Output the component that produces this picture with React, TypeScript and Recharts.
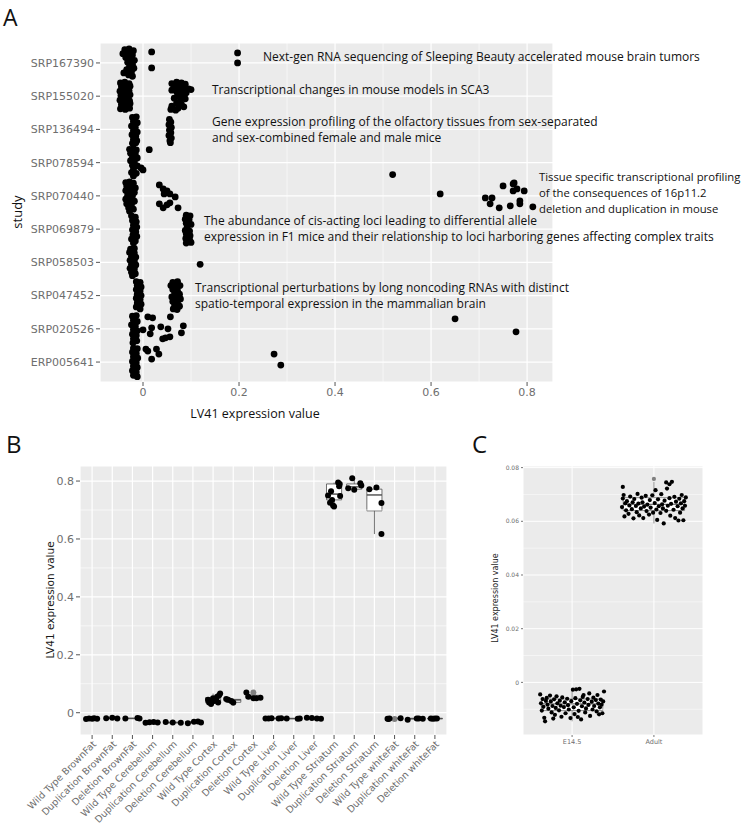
import React from "react";
import {
  CartesianGrid,
  ReferenceArea,
  ReferenceLine,
  Scatter,
  ScatterChart,
  XAxis,
  YAxis,
} from "recharts";

// ---------- panel A: LV41 by study (value, vertical jitter) ----------
const studies = [
  "SRP167390", "SRP155020", "SRP136494", "SRP078594", "SRP070440",
  "SRP069879", "SRP058503", "SRP047452", "SRP020526", "ERP005641",
];

const srp167390 = [
  [-0.038, 0.4], [-0.029, 0.42], [-0.02, 0.37], [-0.042, 0.28], [-0.031, 0.3], [-0.022, 0.24],
  [-0.036, 0.16], [-0.026, 0.12], [-0.018, 0.08], [-0.032, 0.02], [-0.022, -0.04], [-0.028, -0.1],
  [-0.019, -0.16], [-0.034, -0.2], [-0.024, -0.26], [-0.04, -0.3], [-0.03, -0.36], [-0.022, -0.4],
  [0.018, 0.33], [0.018, -0.15], [0.197, 0.3], [0.197, 0.0],
];
const srp155020 = [
  [-0.047, 0.4], [-0.038, 0.42], [-0.029, 0.38], [-0.045, 0.28], [-0.035, 0.26], [-0.027, 0.3],
  [-0.048, 0.15], [-0.039, 0.12], [-0.029, 0.16], [-0.046, 0.02], [-0.036, 0.0], [-0.027, 0.04],
  [-0.048, -0.12], [-0.038, -0.1], [-0.028, -0.14], [-0.045, -0.25], [-0.035, -0.27], [-0.027, -0.22],
  [-0.047, -0.38], [-0.037, -0.4], [-0.028, -0.36],
  [0.06, 0.38], [0.07, 0.42], [0.08, 0.4], [0.088, 0.36], [0.065, 0.3], [0.075, 0.28], [0.085, 0.26],
  [0.095, 0.22], [0.1, 0.2], [0.06, 0.18], [0.07, 0.14], [0.08, 0.12], [0.09, 0.1], [0.072, 0.02],
  [0.082, -0.02], [0.065, -0.06], [0.078, -0.1], [0.088, -0.08], [0.07, -0.2], [0.08, -0.24],
  [0.06, -0.3], [0.073, -0.36], [0.085, -0.32], [0.058, -0.4], [0.068, -0.42],
];
const srp136494 = [
  [-0.022, 0.36], [-0.014, 0.38], [-0.02, 0.24], [-0.012, 0.2], [-0.024, 0.1], [-0.016, 0.06],
  [-0.02, -0.04], [-0.012, -0.08], [-0.023, -0.16], [-0.015, -0.2], [-0.02, -0.3], [-0.013, -0.34],
  [-0.022, -0.42], [-0.015, -0.4],
  [0.055, 0.3], [0.058, 0.22], [0.054, 0.14], [0.059, 0.06], [0.055, -0.02], [0.058, -0.1],
  [0.054, -0.18], [0.059, -0.26], [0.056, -0.34], [0.057, -0.4],
];
const srp078594 = [
  [-0.028, 0.4], [-0.02, 0.42], [-0.014, 0.38], [-0.026, 0.28], [-0.016, 0.26], [-0.022, 0.16],
  [-0.012, 0.14], [-0.026, 0.06], [-0.018, 0.02], [-0.022, -0.08], [-0.012, -0.1], [-0.004, -0.16],
  [0.0, -0.22], [-0.02, -0.2], [-0.024, -0.3], [-0.014, -0.32], [-0.02, -0.4],
  [0.013, 0.39], [0.52, -0.36],
];
const srp070440 = [
  [-0.036, 0.4], [-0.028, 0.42], [-0.02, 0.38], [-0.034, 0.3], [-0.024, 0.28], [-0.016, 0.24],
  [-0.036, 0.16], [-0.026, 0.14], [-0.018, 0.1], [-0.032, 0.02], [-0.022, 0.0], [-0.036, -0.1],
  [-0.026, -0.12], [-0.018, -0.16], [-0.034, -0.24], [-0.024, -0.26], [-0.03, -0.36], [-0.02, -0.4],
  [-0.028, -0.46],
  [0.034, 0.33], [0.042, 0.21], [0.05, 0.15], [0.044, 0.06], [0.056, 0.06], [0.067, -0.03],
  [0.034, -0.24], [0.042, -0.36], [0.05, -0.27], [0.056, -0.21], [0.073, -0.36],
  [0.619, 0.06], [0.713, -0.06], [0.727, -0.06], [0.723, -0.24], [0.742, -0.36], [0.75, 0.3],
  [0.765, -0.3], [0.771, 0.36], [0.773, 0.39], [0.771, 0.15], [0.779, 0.21], [0.785, -0.15],
  [0.785, -0.24], [0.794, 0.15], [0.812, -0.33],
];
const srp069879 = [
  [-0.024, 0.4], [-0.016, 0.36], [-0.022, 0.26], [-0.014, 0.22], [-0.02, 0.12], [-0.013, 0.06],
  [-0.022, -0.02], [-0.015, -0.08], [-0.021, -0.18], [-0.013, -0.22], [-0.024, -0.3], [-0.016, -0.36],
  [-0.02, -0.42],
  [0.09, 0.42], [0.098, 0.4], [0.088, 0.3], [0.096, 0.28], [0.09, 0.18], [0.1, 0.14], [0.092, 0.06],
  [0.088, -0.04], [0.097, -0.06], [0.09, -0.14], [0.098, -0.2], [0.089, -0.28], [0.097, -0.32],
  [0.09, -0.42], [0.1, -0.4],
];
const srp058503 = [
  [-0.026, 0.4], [-0.018, 0.42], [-0.028, 0.3], [-0.018, 0.28], [-0.024, 0.18], [-0.015, 0.16],
  [-0.027, 0.06], [-0.018, 0.04], [-0.024, -0.06], [-0.015, -0.08], [-0.027, -0.18], [-0.018, -0.2],
  [-0.024, -0.3], [-0.016, -0.34], [-0.022, -0.4],
  [0.119, -0.06],
];
const srp047452 = [
  [-0.014, 0.42], [-0.006, 0.4], [-0.012, 0.3], [-0.004, 0.26], [-0.014, 0.18], [-0.006, 0.14],
  [-0.012, 0.04], [-0.004, 0.0], [-0.014, -0.08], [-0.006, -0.12], [-0.012, -0.22], [-0.004, -0.26],
  [-0.014, -0.34], [-0.006, -0.4],
  [0.062, 0.4], [0.072, 0.42], [0.058, 0.3], [0.068, 0.28], [0.077, 0.3], [0.062, 0.18], [0.072, 0.14],
  [0.066, 0.06], [0.076, 0.04], [0.06, -0.04], [0.07, -0.08], [0.078, -0.1], [0.062, -0.18],
  [0.072, -0.22], [0.066, -0.3], [0.076, -0.32], [0.063, -0.4], [0.071, -0.42],
];
const srp020526 = [
  [-0.022, 0.38], [-0.014, 0.4], [-0.02, 0.26], [-0.012, 0.22], [-0.024, 0.12], [-0.016, 0.08],
  [-0.02, -0.02], [-0.012, -0.06], [-0.022, -0.16], [-0.014, -0.2], [-0.02, -0.3], [-0.013, -0.36],
  [-0.021, -0.42],
  [0.0, -0.03], [0.01, 0.36], [0.02, 0.33], [0.018, 0.03], [0.015, -0.15], [0.037, 0.06],
  [0.041, -0.3], [0.047, -0.27], [0.052, 0.0], [0.056, -0.24], [0.057, 0.36], [0.08, -0.12],
  [0.084, 0.09], [0.65, 0.3], [0.777, -0.09],
];
const erp005641 = [
  [-0.02, 0.42], [-0.012, 0.4], [-0.022, 0.3], [-0.014, 0.26], [-0.02, 0.16], [-0.011, 0.12],
  [-0.022, 0.02], [-0.014, -0.02], [-0.02, -0.12], [-0.012, -0.16], [-0.022, -0.26], [-0.014, -0.3],
  [-0.02, -0.4], [-0.012, -0.44],
  [0.006, 0.39], [0.01, 0.33], [0.018, 0.09], [0.028, 0.39], [0.033, 0.24], [0.273, 0.24], [0.287, -0.09],
];
const studyPoints = [
  srp167390, srp155020, srp136494, srp078594, srp070440,
  srp069879, srp058503, srp047452, srp020526, erp005641,
];
const aTicks = [0, 0.2, 0.4, 0.6, 0.8];
const aMinor = [0.1, 0.3, 0.5, 0.7];

// ---------- panel B: tissue / genotype boxplots ----------
const bLabels = [
  "Wild Type BrownFat", "Duplication BrownFat", "Deletion BrownFat",
  "Wild Type Cerebellum", "Duplication Cerebellum", "Deletion Cerebellum",
  "Wild Type Cortex", "Duplication Cortex", "Deletion Cortex",
  "Wild Type Liver", "Duplication Liver", "Deletion Liver",
  "Wild Type Striatum", "Duplication Striatum", "Deletion Striatum",
  "Wild Type whiteFat", "Duplication whiteFat", "Deletion whiteFat",
];
const bQ1 = [-0.022, -0.02, -0.02, -0.035, -0.035, -0.035, 0.034, 0.036, 0.05, -0.02, -0.021, -0.021, 0.735, 0.772, 0.697, -0.021, -0.022, -0.021];
const bMed = [-0.021, -0.019, -0.02, -0.034, -0.034, -0.033, 0.042, 0.044, 0.055, -0.02, -0.02, -0.019, 0.755, 0.78, 0.752, -0.02, -0.02, -0.02];
const bQ3 = [-0.02, -0.018, -0.019, -0.033, -0.033, -0.031, 0.052, 0.046, 0.06, -0.019, -0.02, -0.017, 0.79, 0.79, 0.772, -0.019, -0.02, -0.02];
const bLo = [-0.022, -0.02, -0.02, -0.035, -0.035, -0.036, 0.028, 0.033, 0.049, -0.021, -0.021, -0.021, 0.712, 0.77, 0.617, -0.022, -0.024, -0.021];
const bHi = [-0.019, -0.017, -0.018, -0.032, -0.032, -0.03, 0.066, 0.048, 0.06, -0.019, -0.02, -0.017, 0.795, 0.81, 0.778, -0.019, -0.02, -0.02];
// jittered samples: [x offset within group, value]
const bSamples = [
  [[-0.3, -0.022], [-0.15, -0.02], [0, -0.021], [0.1, -0.019], [0.25, -0.021]],
  [[-0.3, -0.019], [0, -0.017], [0.25, -0.02]],
  [[-0.35, -0.02], [0.25, -0.018], [0.35, -0.02]],
  [[-0.35, -0.035], [-0.15, -0.033], [0.05, -0.032], [0.25, -0.034]],
  [[-0.35, -0.032], [0, -0.034], [0.4, -0.035]],
  [[-0.25, -0.036], [0.05, -0.031], [0.25, -0.03], [0.4, -0.034]],
  [[-0.25, 0.045], [-0.2, 0.035], [-0.1, 0.03], [0, 0.05], [0.05, 0.04], [0.15, 0.045], [0.2, 0.055], [0.3, 0.06], [0.35, 0.066], [0.25, 0.035]],
  [[-0.35, 0.047], [-0.25, 0.045], [-0.1, 0.04], [0, 0.035]],
  [[-0.35, 0.07], [-0.25, 0.055], [0, 0.05], [0.15, 0.05], [0.35, 0.052]],
  [[-0.4, -0.02], [-0.25, -0.02], [-0.1, -0.019], [0.25, -0.02], [0.38, -0.019]],
  [[-0.35, -0.02], [0.2, -0.021], [0.3, -0.02]],
  [[-0.35, -0.017], [-0.1, -0.018], [0.15, -0.02], [0.35, -0.021]],
  [[0.2, 0.795], [0.28, 0.79], [0.25, 0.782], [-0.15, 0.765], [-0.3, 0.75], [0.3, 0.748], [-0.1, 0.735], [-0.2, 0.725], [-0.05, 0.716], [0, 0.712]],
  [[-0.1, 0.81], [0.3, 0.792], [0.35, 0.785], [-0.3, 0.775], [0, 0.77]],
  [[-0.25, 0.772], [0.1, 0.778], [0.35, 0.724], [0.35, 0.617]],
  [[-0.35, -0.021], [-0.25, -0.02], [0.3, -0.019], [-0.3, -0.022]],
  [[-0.35, -0.024], [0.1, -0.02], [0.2, -0.02], [0.4, -0.021]],
  [[-0.2, -0.02], [-0.1, -0.021], [0, -0.02], [0.1, -0.02]],
];
// box-plot outliers drawn in grey under the jitter
const bOutliers = [[9, 0.07], [16, -0.022], [8, 0.034]];
const bTicks = [0, 0.2, 0.4, 0.6, 0.8];
const bMinor = [0.1, 0.3, 0.5, 0.7];

// ---------- panel C: E14.5 vs Adult ----------
const cLabels = ["E14.5", "Adult"];
const cQ1 = [-0.0105, 0.064];
const cMed = [-0.008, 0.0663];
const cQ3 = [-0.0062, 0.0688];
const cLo = [-0.0145, 0.0592];
const cHi = [-0.0026, 0.0747];
const e145 = [
  [-0.39, -0.0045], [-0.36, -0.0062], [-0.38, -0.0078], [-0.35, -0.0091], [-0.37, -0.0105], [-0.34, -0.0132],
  [-0.33, -0.0145], [-0.31, -0.0058], [-0.3, -0.0083], [-0.29, -0.0098], [-0.27, -0.0049], [-0.26, -0.0071],
  [-0.25, -0.0112], [-0.24, -0.0088], [-0.22, -0.0063], [-0.21, -0.0121], [-0.2, -0.0095], [-0.19, -0.0052],
  [-0.18, -0.0078], [-0.16, -0.0104], [-0.15, -0.0068], [-0.14, -0.0087], [-0.13, -0.0128], [-0.12, -0.0056],
  [-0.1, -0.0092], [-0.09, -0.0074], [-0.08, -0.0115], [-0.06, -0.0061], [-0.05, -0.0085], [-0.04, -0.0101],
  [-0.02, -0.0133], [-0.01, -0.007], [0.01, -0.0027], [0.02, -0.0093], [0.03, -0.0118], [0.04, -0.0059],
  [0.05, -0.0026], [0.06, -0.008], [0.08, -0.0106], [0.09, -0.0024], [0.1, -0.0067], [0.11, -0.0138],
  [0.12, -0.0089], [0.13, -0.0054], [0.15, -0.0075], [0.16, -0.0112], [0.17, -0.0097], [0.19, -0.0062],
  [0.2, -0.0084], [0.21, -0.0041], [0.22, -0.0125], [0.24, -0.0072], [0.25, -0.0101], [0.26, -0.0057],
  [0.27, -0.0088], [0.29, -0.0066], [0.3, -0.0108], [0.31, -0.0047], [0.32, -0.0079], [0.33, -0.0119],
  [0.34, -0.0093], [0.35, -0.0064], [0.36, -0.0083], [0.37, -0.0115], [0.38, -0.0071], [0.39, -0.0034],
  [-0.32, -0.0069], [-0.23, -0.0135], [0.07, -0.0129], [0.14, -0.0047],
];
const adult = [
  [-0.39, 0.0653], [-0.38, 0.0685], [-0.37, 0.0698], [-0.36, 0.0618], [-0.35, 0.0667], [-0.34, 0.0641],
  [-0.33, 0.0675], [-0.31, 0.0628], [-0.3, 0.0659], [-0.29, 0.0692], [-0.27, 0.0645], [-0.26, 0.0671],
  [-0.25, 0.0611], [-0.24, 0.0683], [-0.22, 0.0657], [-0.21, 0.0634], [-0.2, 0.0702], [-0.19, 0.0666],
  [-0.18, 0.0622], [-0.16, 0.0648], [-0.15, 0.0688], [-0.14, 0.0671], [-0.13, 0.0612], [-0.12, 0.0655],
  [-0.1, 0.0695], [-0.09, 0.0638], [-0.08, 0.0662], [-0.06, 0.0625], [-0.05, 0.0679], [-0.04, 0.0651],
  [-0.02, 0.0697], [-0.01, 0.0632], [0.01, 0.0668], [0.02, 0.0716], [0.03, 0.0644], [0.04, 0.0605],
  [0.05, 0.0682], [0.06, 0.0656], [0.08, 0.0631], [0.09, 0.0701], [0.1, 0.0663], [0.11, 0.0648],
  [0.12, 0.0592], [0.13, 0.0677], [0.15, 0.0639], [0.16, 0.0722], [0.17, 0.0658], [0.19, 0.0686],
  [0.2, 0.0621], [0.21, 0.0665], [0.22, 0.0747], [0.24, 0.0643], [0.25, 0.0691], [0.26, 0.0612],
  [0.27, 0.0673], [0.29, 0.0656], [0.3, 0.0603], [0.31, 0.0684], [0.32, 0.0632], [0.33, 0.0667],
  [0.34, 0.0698], [0.35, 0.0648], [0.36, 0.0604], [0.37, 0.0675], [0.38, 0.0658], [0.39, 0.0689],
  [0.15, 0.0745], [0.19, 0.0738], [-0.38, 0.0728],
];
const cOutliers = [[2, 0.0758]];
const cTicks = [0, 0.02, 0.04, 0.06, 0.08];
const cMinor = [-0.01, 0.01, 0.03, 0.05, 0.07];

// ---------- helpers ----------
const PANEL_BG = "#ebebeb";
const TICK_COLOR = "#6e6e6e";
const TICK_FONT = "'DejaVu Sans', sans-serif";
const TEXT_FONT = "'Open Sans', sans-serif";
const fmt = (v: number) => (v === 0 ? "0" : String(v));

const dot = (r: number, fill: string) => (p: any) => <circle cx={p.cx} cy={p.cy} r={r} fill={fill} />;

const aData = studyPoints.flatMap((pts, i) =>
  pts.map(([x, j]) => ({ x, y: studies.length - i + j }))
);
const bData = bSamples.flatMap((pts, i) => pts.map(([dx, v]) => ({ x: i + 1 + dx, y: v })));
const bOut = bOutliers.map(([x, y]) => ({ x, y }));
const cData = [e145, adult].flatMap((pts, i) => pts.map(([dx, v]) => ({ x: i + 1 + dx, y: v })));
const cOut = cOutliers.map(([x, y]) => ({ x, y }));

function Note(props: { x: number; y: number; lines: string[]; size?: number }) {
  return (
    <div
      style={{
        position: "absolute",
        left: props.x,
        top: props.y,
        fontFamily: TEXT_FONT,
        fontSize: props.size ?? 12,
        lineHeight: "16px",
        color: "#111",
        whiteSpace: "pre",
      }}
    >
      {props.lines.join("\n")}
    </div>
  );
}

function Rotated(props: { cx: number; cy: number; text: string; font: string; size: number; color?: string }) {
  return (
    <div
      style={{
        position: "absolute",
        left: props.cx,
        top: props.cy,
        transform: "translate(-50%, -50%) rotate(-90deg)",
        fontFamily: props.font,
        fontSize: props.size,
        color: props.color ?? "#1a1a1a",
        whiteSpace: "nowrap",
      }}
    >
      {props.text}
    </div>
  );
}

function BTick(props: any) {
  const { x, y, payload } = props;
  return (
    <text
      x={x + 3}
      y={y + 2}
      transform={`rotate(-45 ${x + 3} ${y + 2})`}
      textAnchor="end"
      dominantBaseline="middle"
      fontFamily={TICK_FONT}
      fontSize={9.5}
      fill={TICK_COLOR}
    >
      {bLabels[payload.value - 1]}
    </text>
  );
}

function boxes(q1: number[], med: number[], q3: number[], lo: number[], hi: number[], stroke: string) {
  const out: React.ReactNode[] = [];
  q1.forEach((_, i) => {
    const c = i + 1;
    out.push(
      <ReferenceLine key={`wl${i}`} segment={[{ x: c, y: lo[i] }, { x: c, y: q1[i] }]} stroke={stroke} strokeWidth={0.8} />,
      <ReferenceLine key={`wh${i}`} segment={[{ x: c, y: q3[i] }, { x: c, y: hi[i] }]} stroke={stroke} strokeWidth={0.8} />,
      <ReferenceArea key={`b${i}`} x1={c - 0.375} x2={c + 0.375} y1={q1[i]} y2={q3[i]} fill="#ffffff" fillOpacity={1} stroke={stroke} strokeWidth={0.8} />,
      <ReferenceLine key={`m${i}`} segment={[{ x: c - 0.375, y: med[i] }, { x: c + 0.375, y: med[i] }]} stroke={stroke} strokeWidth={1.4} />
    );
  });
  return out;
}

export default function App() {
  return (
    <div style={{ position: "absolute", left: 0, top: 0, width: 743, height: 826, background: "#fff", overflow: "hidden" }}>
      {/* ---- A ---- */}
      <div style={{ position: "absolute", left: 0, top: 0 }}>
        <ScatterChart width={743} height={430} margin={{ top: 43, right: 190, bottom: 0, left: 0 }}>
          <CartesianGrid fill={PANEL_BG} fillOpacity={1} stroke="#ffffff" strokeWidth={1.2} />
          {aMinor.map((v) => (
            <ReferenceLine key={v} x={v} stroke="#ffffff" strokeWidth={0.6} />
          ))}
          <XAxis
            type="number"
            dataKey="x"
            domain={[-0.0896, 0.854]}
            allowDataOverflow
            ticks={aTicks}
            interval={0}
            tickFormatter={fmt}
            height={48}
            axisLine={false}
            tickSize={4}
            tickLine={{ stroke: "#555" }}
            tick={{ fill: TICK_COLOR, fontSize: 11, fontFamily: TICK_FONT }}
          />
          <YAxis
            type="number"
            dataKey="y"
            domain={[0.4, 10.6]}
            allowDataOverflow
            ticks={[1, 2, 3, 4, 5, 6, 7, 8, 9, 10]}
            interval={0}
            tickFormatter={(v: number) => studies[studies.length - v]}
            width={100}
            axisLine={false}
            tickSize={4}
            tickLine={{ stroke: "#555" }}
            tick={{ fill: TICK_COLOR, fontSize: 11, fontFamily: TICK_FONT }}
          />
          <Scatter data={aData} fill="#000" shape={dot(3.4, "#000")} isAnimationActive={false} />
        </ScatterChart>
      </div>
      <div style={{ position: "absolute", left: 3, top: 1, fontFamily: TEXT_FONT, fontSize: 23, color: "#111" }}>A</div>
      <Rotated cx={17} cy={212} text="study" font={TEXT_FONT} size={13} color="#111" />
      <div style={{ position: "absolute", left: 255, top: 413, transform: "translate(-50%, -50%)", fontFamily: TEXT_FONT, fontSize: 12.5, color: "#111", whiteSpace: "nowrap" }}>
        LV41 expression value
      </div>
      <Note x={263} y={49} lines={["Next-gen RNA sequencing of Sleeping Beauty accelerated mouse brain tumors"]} />
      <Note x={212} y={82} lines={["Transcriptional changes in mouse models in SCA3"]} />
      <Note x={212} y={114} lines={["Gene expression profiling of the olfactory tissues from sex-separated", "and sex-combined female and male mice"]} />
      <Note x={539} y={169} size={11.3} lines={["Tissue specific transcriptional profiling", "of the consequences of 16p11.2", "deletion and duplication in mouse"]} />
      <Note x={204} y={213} lines={["The abundance of cis-acting loci leading to differential allele", "expression in F1 mice and their relationship to loci harboring genes affecting complex traits"]} />
      <Note x={195} y={280} lines={["Transcriptional perturbations by long noncoding RNAs with distinct", "spatio-temporal expression in the mammalian brain"]} />

      {/* ---- B ---- */}
      <div style={{ position: "absolute", left: 0, top: 430 }}>
        <ScatterChart width={470} height={396} margin={{ top: 36, right: 23, bottom: 0, left: 0 }}>
          <CartesianGrid fill={PANEL_BG} fillOpacity={1} stroke="#ffffff" strokeWidth={1.2} />
          {bMinor.map((v) => (
            <ReferenceLine key={v} y={v} stroke="#ffffff" strokeWidth={0.6} />
          ))}
          <XAxis
            type="number"
            dataKey="x"
            domain={[0.4, 18.6]}
            allowDataOverflow
            ticks={bLabels.map((_, i) => i + 1)}
            interval={0}
            height={91}
            axisLine={false}
            tickSize={4}
            tickLine={{ stroke: "#555" }}
            tick={<BTick />}
          />
          <YAxis
            type="number"
            dataKey="y"
            domain={[-0.077, 0.852]}
            allowDataOverflow
            ticks={bTicks}
            interval={0}
            tickFormatter={fmt}
            width={80}
            axisLine={false}
            tickSize={4}
            tickLine={{ stroke: "#555" }}
            tick={{ fill: TICK_COLOR, fontSize: 11, fontFamily: TICK_FONT }}
          />
          {boxes(bQ1, bMed, bQ3, bLo, bHi, "#4d4d4d")}
          <Scatter data={bOut} shape={dot(3, "#808080")} isAnimationActive={false} />
          <Scatter data={bData} shape={dot(3, "#000")} isAnimationActive={false} />
        </ScatterChart>
      </div>
      <div style={{ position: "absolute", left: 6, top: 427, fontFamily: TEXT_FONT, fontSize: 24, color: "#111" }}>B</div>
      <Rotated cx={50} cy={600} text="LV41 expression value" font={TICK_FONT} size={10.5} />

      {/* ---- C ---- */}
      <div style={{ position: "absolute", left: 470, top: 430 }}>
        <ScatterChart width={273} height={396} margin={{ top: 36, right: 40, bottom: 0, left: 0 }}>
          <CartesianGrid fill={PANEL_BG} fillOpacity={1} stroke="#ffffff" strokeWidth={1} />
          {cMinor.map((v) => (
            <ReferenceLine key={v} y={v} stroke="#ffffff" strokeWidth={0.5} />
          ))}
          <XAxis
            type="number"
            dataKey="x"
            domain={[0.4, 2.6]}
            allowDataOverflow
            ticks={[1, 2]}
            interval={0}
            tickFormatter={(v: number) => cLabels[v - 1]}
            height={91}
            axisLine={false}
            tickSize={2}
            tickLine={{ stroke: "#777" }}
            tick={{ fill: TICK_COLOR, fontSize: 6.5, fontFamily: TICK_FONT }}
          />
          <YAxis
            type="number"
            dataKey="y"
            domain={[-0.0196, 0.0806]}
            allowDataOverflow
            ticks={cTicks}
            interval={0}
            tickFormatter={fmt}
            width={53}
            axisLine={false}
            tickSize={2}
            tickLine={{ stroke: "#777" }}
            tick={{ fill: TICK_COLOR, fontSize: 6, fontFamily: TICK_FONT }}
          />
          {boxes(cQ1, cMed, cQ3, cLo, cHi, "#777777")}
          <Scatter data={cOut} shape={dot(2.1, "#808080")} isAnimationActive={false} />
          <Scatter data={cData} shape={dot(2.1, "#000")} isAnimationActive={false} />
        </ScatterChart>
      </div>
      <div style={{ position: "absolute", left: 472, top: 427, fontFamily: TEXT_FONT, fontSize: 24, color: "#111" }}>C</div>
      <Rotated cx={495} cy={598} text="LV41 expression value" font={TICK_FONT} size={8} />
    </div>
  );
}
